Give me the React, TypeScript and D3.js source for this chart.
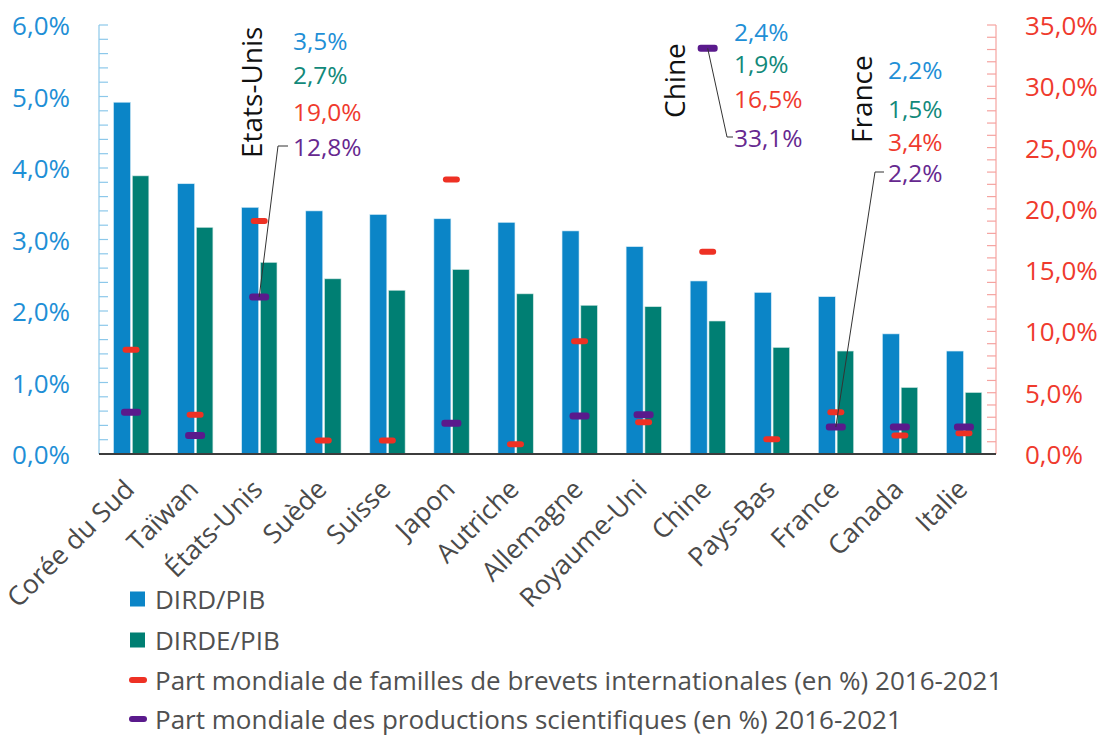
import React from "react";
import * as d3 from "d3";

const categories = ["Corée du Sud", "Taïwan", "États-Unis", "Suède", "Suisse", "Japon", "Autriche", "Allemagne", "Royaume-Uni", "Chine", "Pays-Bas", "France", "Canada", "Italie"];
const dird = [4.92, 3.78, 3.45, 3.40, 3.35, 3.29, 3.24, 3.12, 2.90, 2.42, 2.26, 2.20, 1.68, 1.44];
const dirde = [3.89, 3.17, 2.68, 2.45, 2.29, 2.58, 2.24, 2.08, 2.06, 1.86, 1.49, 1.44, 0.93, 0.86];
const brevets = [8.5, 3.2, 19.0, 1.1, 1.1, 22.4, 0.8, 9.2, 2.6, 16.5, 1.2, 3.4, 1.5, 1.7];
const publications: (number | null)[] = [3.4, 1.5, 12.8, null, null, 2.5, null, 3.1, 3.2, 33.1, null, 2.2, 2.2, 2.2];

const leftTicks = [0, 1, 2, 3, 4, 5, 6];
const rightTicks = [0, 5, 10, 15, 20, 25, 30, 35];

const legendItems = [
  { label: "DIRD/PIB", kind: "square", color: "#0b85c7" },
  { label: "DIRDE/PIB", kind: "square", color: "#007f73" },
  { label: "Part mondiale de familles de brevets internationales (en %) 2016-2021", kind: "dash", color: "#ee3124" },
  { label: "Part mondiale des productions scientifiques (en %) 2016-2021", kind: "dash", color: "#5a1a8c" },
];

// Annotated countries
const annotations = [
  { country: "États-Unis", name: "Etats-Unis", values: ["3,5%", "2,7%", "19,0%", "12,8%"], nameX: 262, nameY: 158, textX: 293, textYs: [40, 74, 111, 146], elbowX: 278, endX: 288 },
  { country: "Chine", name: "Chine", values: ["2,4%", "1,9%", "16,5%", "33,1%"], nameX: 685, nameY: 118, textX: 734, textYs: [31, 63, 98, 137], elbowX: 727, endX: 733 },
  { country: "France", name: "France", values: ["2,2%", "1,5%", "3,4%", "2,2%"], nameX: 872, nameY: 143, textX: 888, textYs: [69, 108, 141, 172], elbowX: 875, endX: 884 },
];

const BLUE = "#0b85c7";
const GREEN = "#007f73";
const RED = "#ee3124";
const PURPLE = "#5a1a8c";
const TXT_BLUE = "#1f8fd6";
const TXT_GREEN = "#12897a";
const TXT_RED = "#ef3a2d";
const TXT_PURPLE = "#66288f";
const FONT = "'Open Sans', 'Noto Sans', sans-serif";

export default function App() {
  const W = 1102, H = 738;
  const x0 = 99, x1 = 996, yTop = 25, yBot = 454;
  const x = d3.scaleBand<string>().domain(categories).range([x0, x1]).padding(0);
  const yL = d3.scaleLinear().domain([0, 6]).range([yBot, yTop]);
  const yR = d3.scaleLinear().domain([0, 35]).range([yBot, yTop]);
  const cx = (c: string) => (x(c) as number) + x.bandwidth() / 2;

  const minorLeft = d3.range(0, 6.0001, 0.2);
  const minorRight = d3.range(0, 35.0001, 1);
  const valColors = [TXT_BLUE, TXT_GREEN, TXT_RED, TXT_PURPLE];

  return (
    <svg width={W} height={H} style={{ position: "absolute", left: 0, top: 0, background: "#fff" }} fontFamily={FONT}>
      {/* left axis */}
      <line x1={x0} x2={x0} y1={yTop} y2={yBot} stroke="#8cc8ea" strokeWidth={1.2} />
      {minorLeft.map((t, i) => (
        <line key={"lt" + i} x1={x0} x2={x0 + 9} y1={yL(t)} y2={yL(t)} stroke="#8cc8ea" strokeWidth={1.2} />
      ))}
      {leftTicks.map((t) => (
        <text key={"ll" + t} x={70} y={yL(t)} textAnchor="end" dominantBaseline="central" fontSize={26} fill={TXT_BLUE}>
          {d3.format(".1f")(t).replace(".", ",") + "%"}
        </text>
      ))}
      {/* right axis */}
      <line x1={x1} x2={x1} y1={yTop} y2={yBot} stroke="#f5a3a0" strokeWidth={1.2} />
      {minorRight.map((t, i) => (
        <line key={"rt" + i} x1={x1 - 9} x2={x1} y1={yR(t)} y2={yR(t)} stroke="#f5a3a0" strokeWidth={1.2} />
      ))}
      {rightTicks.map((t) => (
        <text key={"rl" + t} x={1025} y={yR(t)} textAnchor="start" dominantBaseline="central" fontSize={26} fill={TXT_RED}>
          {d3.format(".1f")(t).replace(".", ",") + "%"}
        </text>
      ))}

      {/* bars */}
      {categories.map((c, i) => (
        <g key={"b" + c}>
          <rect x={cx(c) - 17.5} y={yL(dird[i])} width={17} height={yBot - yL(dird[i])} fill={BLUE} stroke="#d6ecf7" strokeWidth={0.6} />
          <rect x={cx(c) + 1.3} y={yL(dirde[i])} width={16.5} height={yBot - yL(dirde[i])} fill={GREEN} stroke="#cfe6e3" strokeWidth={0.6} />
        </g>
      ))}

      {/* baseline */}
      <line x1={x0} x2={x1} y1={yBot} y2={yBot} stroke="#3c3c3c" strokeWidth={2} />

      {/* markers */}
      {categories.map((c, i) => (
        <rect key={"r" + c} x={cx(c) - 8.5} y={yR(brevets[i]) - 3} width={17} height={6} rx={3} fill={RED} />
      ))}
      {categories.map((c, i) =>
        publications[i] == null ? null : (
          <rect key={"p" + c} x={cx(c) - 10} y={yR(publications[i] as number) - 3.5} width={20} height={7} rx={3} fill={PURPLE} />
        )
      )}

      {/* annotations */}
      {annotations.map((a) => {
        const i = categories.indexOf(a.country);
        const sx = cx(a.country);
        const sy = yR(publications[i] as number);
        const ly = a.textYs[3];
        return (
          <g key={"a" + a.country}>
            <polyline points={`${sx},${sy} ${a.elbowX},${ly} ${a.endX},${ly}`} fill="none" stroke="#333" strokeWidth={1} />
            <text transform={`translate(${a.nameX},${a.nameY}) rotate(-90)`} textAnchor="start" fontSize={28} fill="#111">
              {a.name}
            </text>
            {a.values.map((v, k) => (
              <text key={k} x={a.textX} y={a.textYs[k]} dominantBaseline="central" fontSize={24.5} fill={valColors[k]}>
                {v}
              </text>
            ))}
          </g>
        );
      })}

      {/* category labels */}
      {categories.map((c) => (
        <text key={"c" + c} transform={`translate(${cx(c) + 5},${491}) rotate(-45)`} textAnchor="end" fontSize={26.5} fill="#4a4a4a">
          {c}
        </text>
      ))}

      {/* legend */}
      {legendItems.map((it, k) => {
        const ys = [599, 640, 680, 719];
        const y = ys[k];
        return (
          <g key={"lg" + k}>
            {it.kind === "square" ? (
              <rect x={130} y={y - 7.5} width={15} height={15} fill={it.color} />
            ) : (
              <rect x={129} y={y - 3} width={18} height={6} rx={3} fill={it.color} />
            )}
            <text x={155} y={y} dominantBaseline="central" fontSize={26} fill="#505050">
              {it.label}
            </text>
          </g>
        );
      })}
    </svg>
  );
}
